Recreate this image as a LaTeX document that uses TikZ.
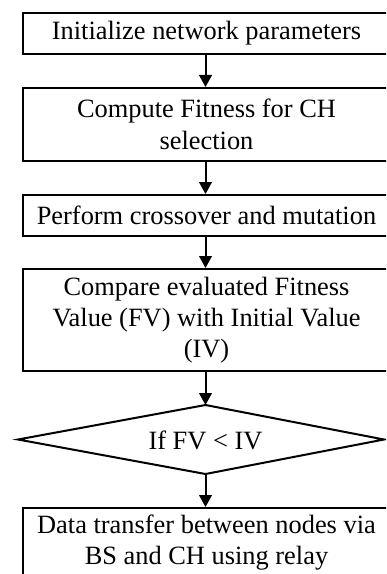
\documentclass[tikz,border=0pt]{standalone}
\usepackage{fontspec}
\setmainfont{Liberation Serif}
\usetikzlibrary{arrows.meta}
\newcommand{\boxtext}[1]{\parbox{276pt}{\centering #1}\hspace{24pt}}
\begin{document}
\begin{tikzpicture}[x=0.75pt,y=-0.75pt,
  box/.style={draw, line width=1.5pt, anchor=west, inner sep=0pt,
    font=\fontsize{19.8pt}{23.5pt}\selectfont},
  lbl/.style={inner sep=0pt, align=center, font=\fontsize{19.8pt}{23.5pt}\selectfont},
  arr/.style={line width=1.5pt, -{Triangle[length=9pt,width=9.5pt]}},
  dia/.style={line width=1.5pt, line join=miter}]
\useasboundingbox (0,0) rectangle (386,574);
\clip (0,0) rectangle (386,574);
\coordinate (ax) at (205.5,0);
\node[box, minimum height=30.75pt] (b1) at (21.5,33.5) {\boxtext{Initialize network parameters}};
\node[box, minimum height=54.75pt] (b2) at (21.5,124.5) {\boxtext{Compute Fitness for CH\\selection}};
\node[box, minimum height=30.75pt] (b3) at (21.5,215.5) {\boxtext{Perform crossover and mutation}};
\node[box, minimum height=76.5pt] (b4) at (21.5,320) {\boxtext{Compare evaluated Fitness\\Value (FV) with Initial Value\\(IV)}};
\coordinate (dt) at (205.5,405);
\coordinate (dr) at (384,439.5);
\coordinate (db) at (205.5,474);
\coordinate (dl) at (18,439.5);
\draw[dia] (dt) -- (dr) -- (db) -- (dl) -- cycle;
\node[lbl] (dtext) at (205.5,440) {If FV < IV};
\node[box, minimum height=51.75pt] (b5) at (21.5,542.5) {\boxtext{Data transfer between nodes via\\BS and CH using relay}};
\draw[arr] (b1.south -| ax) -- (b2.north -| ax);
\draw[arr] (b2.south -| ax) -- (b3.north -| ax);
\draw[arr] (b3.south -| ax) -- (b4.north -| ax);
\draw[arr] (b4.south -| ax) -- (dt);
\draw[arr] (db) -- (b5.north -| ax);
\end{tikzpicture}
\end{document}
